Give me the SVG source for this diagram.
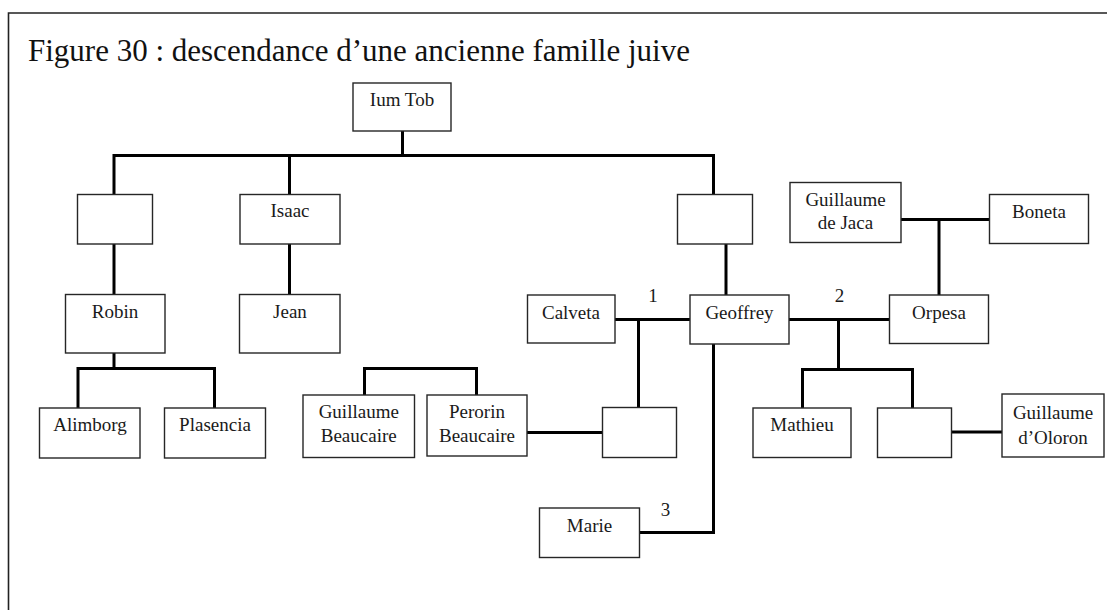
<svg xmlns="http://www.w3.org/2000/svg" width="1107" height="610" viewBox="0 0 1107 610">
<style>
.box{fill:#fff;stroke:#262626;stroke-width:1.4}
.lbl{font-family:"Liberation Serif","Times New Roman",serif;font-size:19px;fill:#1a1a1a;text-anchor:middle}
.num{font-family:"Liberation Serif","Times New Roman",serif;font-size:19px;fill:#1a1a1a;text-anchor:middle}
.title{font-family:"Liberation Serif","Times New Roman",serif;font-size:31px;fill:#111}
.conn{fill:none;stroke:#000;stroke-width:3;stroke-linejoin:miter;stroke-linecap:square}
</style>
<rect width="1107" height="610" fill="#fff"/>
<path d="M8.5 610 V13 H1107" fill="none" stroke="#222" stroke-width="1.6"/>
<text class="title" x="28" y="61">Figure 30 : descendance d’une ancienne famille juive</text>

<g id="connectors" class="conn">
<path d="M402.5 131 V155.5"/>
<path d="M114 194 V155.5 H713.5 V194"/>
<path d="M289.5 155.5 V194"/>
<path d="M114 244 V294"/>
<path d="M289.5 244 V294"/>
<path d="M114 353 V368.5"/>
<path d="M78 408 V368.5 H214.5 V408"/>
<path d="M364.5 395 V368.5 H476.5 V395"/>
<path d="M726 244 V295"/>
<path d="M615 319.5 H690"/>
<path d="M638.5 319.5 V407.5"/>
<path d="M789 319.5 H889.5"/>
<path d="M838.5 319.5 V369.5"/>
<path d="M802.5 408 V369.5 H912.5 V408"/>
<path d="M901 219.5 H989.5"/>
<path d="M939 219.5 V295"/>
<path d="M527 432.5 H602.5"/>
<path d="M951 432 H1002"/>
<path d="M713.5 344 V532.5 H640"/>
</g>

<g id="n-iumtob"><rect class="box" x="353" y="83" width="98" height="48"/><text class="lbl" x="402" y="106">Ium Tob</text></g>
<g id="n-unknown1"><rect class="box" x="77.5" y="194.5" width="75" height="49.5"/></g>
<g id="n-isaac"><rect class="box" x="240" y="194.5" width="100" height="49.5"/><text class="lbl" x="290" y="217">Isaac</text></g>
<g id="n-unknown2"><rect class="box" x="677.5" y="194.5" width="75" height="49.5"/></g>
<g id="n-guillaumejaca"><rect class="box" x="790" y="182.5" width="111" height="60"/><text class="lbl" x="845.5" y="206">Guillaume</text><text class="lbl" x="845.5" y="229">de Jaca</text></g>
<g id="n-boneta"><rect class="box" x="989.5" y="194.5" width="99" height="49"/><text class="lbl" x="1039" y="217.5">Boneta</text></g>
<g id="n-robin"><rect class="box" x="65.5" y="294.5" width="99.5" height="58.5"/><text class="lbl" x="115" y="318">Robin</text></g>
<g id="n-jean"><rect class="box" x="239.5" y="294.5" width="100.5" height="58.5"/><text class="lbl" x="290" y="318">Jean</text></g>
<g id="n-calveta"><rect class="box" x="527.5" y="295" width="87.5" height="48"/><text class="lbl" x="571" y="318.5">Calveta</text></g>
<g id="n-geoffrey"><rect class="box" x="690" y="295" width="99" height="49"/><text class="lbl" x="739.5" y="318.5">Geoffrey</text></g>
<g id="n-orpesa"><rect class="box" x="889.5" y="295" width="99" height="48.5"/><text class="lbl" x="939" y="318.5">Orpesa</text></g>
<g id="n-alimborg"><rect class="box" x="39.5" y="408" width="100.5" height="50"/><text class="lbl" x="90" y="430.5">Alimborg</text></g>
<g id="n-plasencia"><rect class="box" x="164.5" y="408" width="101" height="50"/><text class="lbl" x="215" y="430.5">Plasencia</text></g>
<g id="n-guillaumebeaucaire"><rect class="box" x="303" y="395" width="111.5" height="62.5"/><text class="lbl" x="358.75" y="418">Guillaume</text><text class="lbl" x="358.75" y="442">Beaucaire</text></g>
<g id="n-perorinbeaucaire"><rect class="box" x="427" y="395" width="100" height="61"/><text class="lbl" x="477" y="418">Perorin</text><text class="lbl" x="477" y="442">Beaucaire</text></g>
<g id="n-unknown3"><rect class="box" x="602.5" y="407.5" width="74" height="50"/></g>
<g id="n-mathieu"><rect class="box" x="753" y="408" width="98" height="49.5"/><text class="lbl" x="802" y="430.5">Mathieu</text></g>
<g id="n-unknown4"><rect class="box" x="877.5" y="408" width="74" height="49.5"/></g>
<g id="n-guillaumeoloron"><rect class="box" x="1002" y="394" width="102" height="63"/><text class="lbl" x="1053" y="419">Guillaume</text><text class="lbl" x="1053" y="444">d’Oloron</text></g>
<g id="n-marie"><rect class="box" x="539.5" y="508" width="100" height="49.5"/><text class="lbl" x="589.5" y="531.5">Marie</text></g>

<g id="marriage-numbers">
<text class="num" x="653" y="301.5">1</text>
<text class="num" x="839.5" y="301.5">2</text>
<text class="num" x="665.5" y="516">3</text>
</g>
</svg>
